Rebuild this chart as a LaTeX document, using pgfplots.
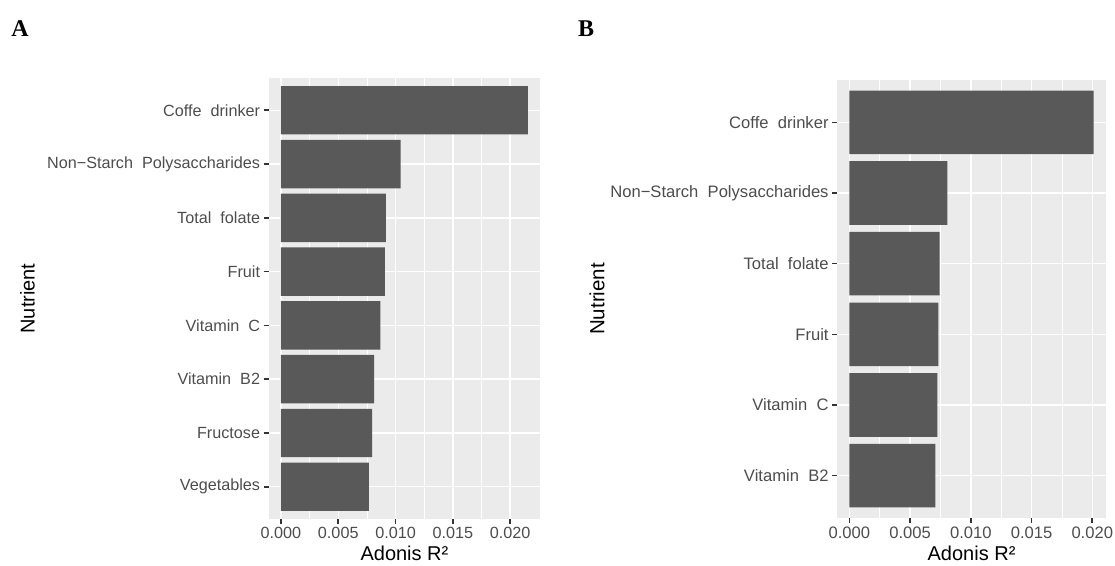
\documentclass[border=0pt]{standalone}
\usepackage{pgfplots}
\pgfplotsset{compat=1.18}
\usepackage{fontspec}
\setmainfont{Liberation Sans}
\newfontfamily\panelfont{Liberation Serif}
\definecolor{panelbg}{HTML}{EBEBEB}
\definecolor{barfill}{HTML}{595959}
\definecolor{ticklab}{HTML}{4D4D4D}
\definecolor{tickcol}{HTML}{333333}
\pgfplotsset{
  ggstyle/.style={
    scale only axis,
    anchor=south west,
    axis background/.style={fill=panelbg},
    axis line style={draw=none},
    xmajorgrids, ymajorgrids, xminorgrids,
    major grid style={white, line width=1.5pt},
    minor grid style={white, line width=0.75pt},
    minor x tick num=1,
    minor tick length=0pt,
    tick align=outside,
    major tick length=5pt,
    xtick pos=bottom, ytick pos=left,
    tick style={tickcol, line width=1.6pt},
    xtick={0,0.005,0.01,0.015,0.02},
    scaled x ticks=false,
    /pgf/number format/.cd, fixed, fixed zerofill, precision=3, assume math mode=true,
    /pgfplots/.cd,
    ticklabel style={text=ticklab},
    xlabel style={anchor=base, font=\fontsize{20}{24}\selectfont},
    clip=false,
  }
}
\begin{document}
\begin{tikzpicture}
\path[use as bounding box] (0,0) rectangle (1115pt,565pt);
\node[font=\panelfont\bfseries\fontsize{24}{27}\selectfont] at (20pt,536pt) {A};
\node[font=\panelfont\bfseries\fontsize{24}{27}\selectfont] at (586pt,536pt) {B};
% Panel A
\begin{axis}[ggstyle,
  at={(268.6pt,46pt)}, width=271.7pt, height=441pt,
  xmin=-0.001078, xmax=0.02263, ymin=0.4, ymax=8.6,
  ytick={1,2,3,4,5,6,7,8},
  yticklabels={Vegetables,Fructose,{Vitamin\ \ B2},{Vitamin\ \ C},Fruit,{Total\ \ folate},{Non−Starch\ \ Polysaccharides},{Coffe\ \ drinker}},
  ticklabel style={font=\fontsize{16.2}{19}\selectfont},
  xlabel={Adonis R²},
  xlabel style={at={(axis description cs:0.5,-0.093)}},
  ylabel={Nutrient},
  ylabel style={at={(axis description cs:-0.887,0.5)}, anchor=center, font=\fontsize{20}{24}\selectfont},
]
\addplot[xbar, bar width=0.9, fill=barfill, draw=none] coordinates {
  (0.00768,1) (0.00796,2) (0.00812,3) (0.00868,4) (0.00906,5) (0.00915,6) (0.01044,7) (0.02155,8)
};
\end{axis}
% Panel B
\begin{axis}[ggstyle,
  at={(837.1pt,47pt)}, width=268.9pt, height=438pt,
  xmin=-0.001006, xmax=0.02113, ymin=0.4, ymax=6.6,
  ytick={1,2,3,4,5,6},
  yticklabels={{Vitamin\ \ B2},{Vitamin\ \ C},Fruit,{Total\ \ folate},{Non−Starch\ \ Polysaccharides},{Coffe\ \ drinker}},
  ticklabel style={font=\fontsize{16.6}{19.5}\selectfont},
  xlabel={Adonis R²},
  xlabel style={at={(axis description cs:0.5,-0.0959)}},
  ylabel={Nutrient},
  ylabel style={at={(axis description cs:-0.893,0.5)}, anchor=center, font=\fontsize{20.5}{24}\selectfont},
]
\addplot[xbar, bar width=0.9, fill=barfill, draw=none] coordinates {
  (0.00709,1) (0.00724,2) (0.00733,3) (0.00744,4) (0.00808,5) (0.02012,6)
};
\end{axis}
\end{tikzpicture}
\end{document}
